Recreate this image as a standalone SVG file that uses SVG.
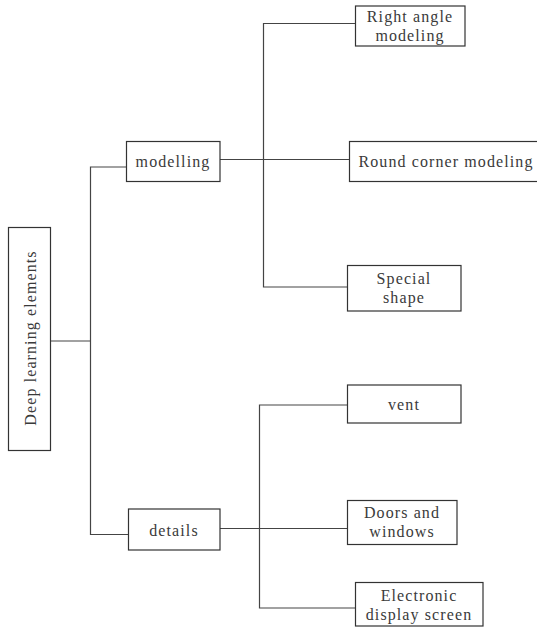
<svg xmlns="http://www.w3.org/2000/svg" width="537" height="628" viewBox="0 0 537 628">
<style>
.box{fill:#fff;stroke:#333;stroke-width:1.2}
.t{font-family:"Liberation Serif","DejaVu Serif",serif;font-size:16px;fill:#3a3a3a;text-anchor:middle;dominant-baseline:central;letter-spacing:1.1px}
.c{fill:none;stroke:#444;stroke-width:1.2}
</style>
<rect width="537" height="628" fill="#fff"/>
<g id="connectors">
<polyline class="c" points="50.5,341 90.5,341"/>
<polyline class="c" points="126.5,167 90.5,167 90.5,534.5 128.5,534.5"/>
<polyline class="c" points="220,159.5 349.5,159.5"/>
<polyline class="c" points="355.5,23.5 263.5,23.5 263.5,287 347.5,287"/>
<polyline class="c" points="220,528.5 347.5,528.5"/>
<polyline class="c" points="347.5,405 259.5,405 259.5,608 355.5,608"/>
</g>
<g id="root"><rect class="box" x="8.5" y="227.5" width="42" height="223"/><text class="t" transform="translate(30,338) rotate(-90)">Deep learning elements</text></g>
<g id="modelling"><rect class="box" x="126.5" y="141.5" width="93.5" height="40"/><text class="t" x="173" y="161">modelling</text></g>
<g id="details"><rect class="box" x="128.5" y="509" width="91.5" height="41"/><text class="t" x="174" y="530">details</text></g>
<g id="right-angle"><rect class="box" x="355.5" y="6" width="109.5" height="40"/><text class="t" x="410" y="16.5">Right angle</text><text class="t" x="410" y="35.5">modeling</text></g>
<g id="round-corner"><rect class="box" x="349.5" y="141.5" width="190" height="40"/><text class="t" x="446" y="161">Round corner modeling</text></g>
<g id="special-shape"><rect class="box" x="347.5" y="265.5" width="113.5" height="45.5"/><text class="t" x="404" y="278.5">Special</text><text class="t" x="404" y="297.5">shape</text></g>
<g id="vent"><rect class="box" x="347.5" y="385" width="113.5" height="38"/><text class="t" x="404" y="404">vent</text></g>
<g id="doors"><rect class="box" x="347.5" y="500.5" width="109.5" height="44"/><text class="t" x="402" y="512.5">Doors and</text><text class="t" x="402" y="531.5">windows</text></g>
<g id="electronic"><rect class="box" x="355.5" y="582.5" width="127.5" height="43.5"/><text class="t" x="419" y="595">Electronic</text><text class="t" x="419" y="614">display screen</text></g>
</svg>
